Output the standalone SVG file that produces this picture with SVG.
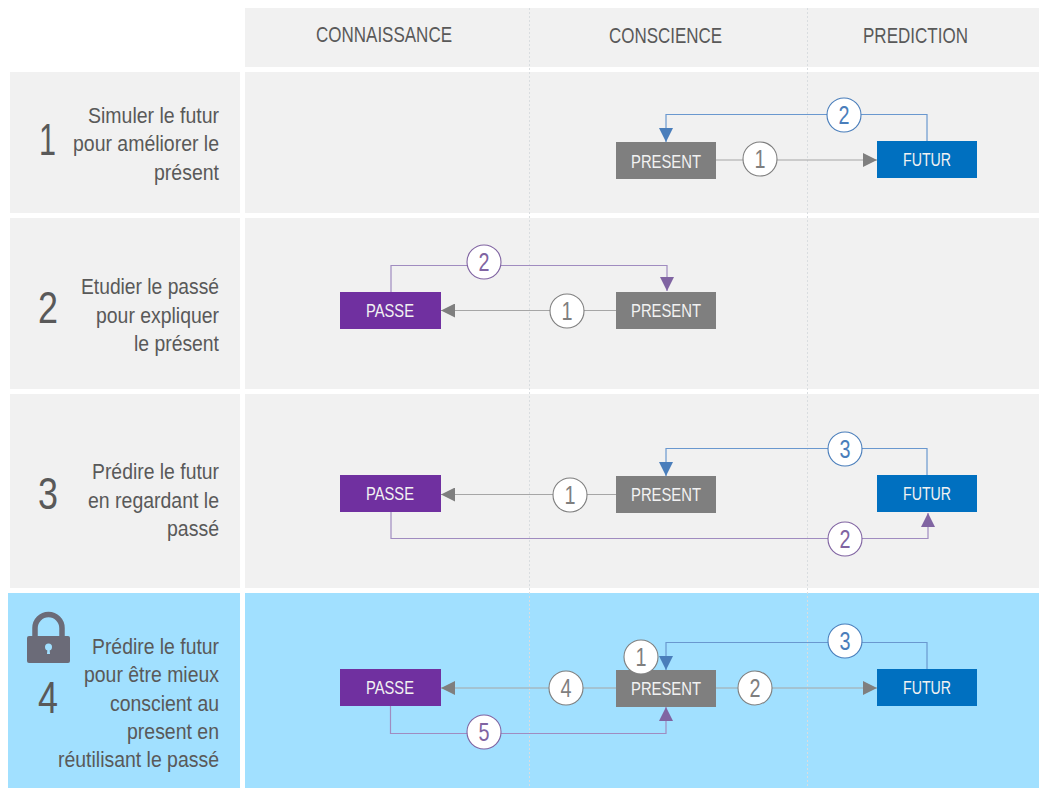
<svg xmlns="http://www.w3.org/2000/svg" width="1039" height="788" viewBox="0 0 1039 788">
<defs>
<marker id="ag" viewBox="0 0 14 14" refX="14" refY="7" markerWidth="14" markerHeight="14" markerUnits="userSpaceOnUse" orient="auto"><path d="M0 0L14 7L0 14Z" fill="#7f7f7f"/></marker>
<marker id="ab" viewBox="0 0 14 14" refX="14" refY="7" markerWidth="14" markerHeight="14" markerUnits="userSpaceOnUse" orient="auto"><path d="M0 0L14 7L0 14Z" fill="#4a7ebb"/></marker>
<marker id="ap" viewBox="0 0 14 14" refX="14" refY="7" markerWidth="14" markerHeight="14" markerUnits="userSpaceOnUse" orient="auto"><path d="M0 0L14 7L0 14Z" fill="#8064a2"/></marker>
</defs>
<style>
text{font-family:"Liberation Sans",Arial,sans-serif;}
.bg{fill:#f1f1f1}.hl{fill:#a1e0ff}
.h{font-size:22px;fill:#595959;text-anchor:middle}
.d{font-size:22px;fill:#595959;text-anchor:end}
.n{font-size:44px;fill:#595959;text-anchor:middle}
.box{font-size:18px;fill:#f2f2f2;text-anchor:middle}
.c{font-size:25px;text-anchor:middle}
.cg{fill:#fff;stroke:#7f7f7f;stroke-width:1.1}
.cb{fill:#fff;stroke:#4a7ebb;stroke-width:1.1}
.cp{fill:#fff;stroke:#8064a2;stroke-width:1.1}
.lg{fill:none;stroke:#a6a6a6;stroke-width:1.2}
.lb{fill:none;stroke:#6a98cf;stroke-width:1.2}
.lp{fill:none;stroke:#a08cc0;stroke-width:1.2}
.sep{stroke:#d9dde0;stroke-width:1;stroke-dasharray:2 2}
.t-g{fill:#7f7f7f}.t-b{fill:#4a7ebb}.t-p{fill:#8064a2}
</style>
<g id="background">
<rect class="bg" x="245" y="8" width="794" height="59"/>
<rect class="bg" x="10" y="72" width="230" height="141"/>
<rect class="bg" x="245" y="72" width="794" height="141"/>
<rect class="bg" x="10" y="218" width="230" height="171"/>
<rect class="bg" x="245" y="218" width="794" height="171"/>
<rect class="bg" x="10" y="394" width="230" height="194"/>
<rect class="bg" x="245" y="394" width="794" height="194"/>
<rect class="hl" x="8" y="593" width="232" height="195"/>
<rect class="hl" x="245" y="593" width="794" height="195"/>
<line class="sep" x1="529.500" y1="8" x2="529.500" y2="788"/>
<line class="sep" x1="807.500" y1="8" x2="807.500" y2="788"/>
</g>
<g id="headers">
<text class="h" x="384" y="42" textLength="136" lengthAdjust="spacingAndGlyphs">CONNAISSANCE</text>
<text class="h" x="665.500" y="43" textLength="113" lengthAdjust="spacingAndGlyphs">CONSCIENCE</text>
<text class="h" x="915.500" y="43" textLength="105" lengthAdjust="spacingAndGlyphs">PREDICTION</text>
</g>
<g id="row-labels">
<text class="n" x="47.500" y="155" textLength="17" lengthAdjust="spacingAndGlyphs">1</text>
<text class="d" x="219" y="123" textLength="131" lengthAdjust="spacingAndGlyphs">Simuler le futur</text>
<text class="d" x="219" y="151" textLength="146" lengthAdjust="spacingAndGlyphs">pour améliorer le</text>
<text class="d" x="219" y="180" textLength="65" lengthAdjust="spacingAndGlyphs">présent</text>
<text class="n" x="48" y="323" textLength="20" lengthAdjust="spacingAndGlyphs">2</text>
<text class="d" x="219" y="294" textLength="138" lengthAdjust="spacingAndGlyphs">Etudier le passé</text>
<text class="d" x="219" y="323" textLength="123" lengthAdjust="spacingAndGlyphs">pour expliquer</text>
<text class="d" x="219" y="351" textLength="85" lengthAdjust="spacingAndGlyphs">le présent</text>
<text class="n" x="48" y="509" textLength="20" lengthAdjust="spacingAndGlyphs">3</text>
<text class="d" x="219" y="479" textLength="127" lengthAdjust="spacingAndGlyphs">Prédire le futur</text>
<text class="d" x="219" y="508" textLength="131" lengthAdjust="spacingAndGlyphs">en regardant le</text>
<text class="d" x="219" y="536" textLength="52" lengthAdjust="spacingAndGlyphs">passé</text>
<text class="n" x="48" y="713" textLength="20" lengthAdjust="spacingAndGlyphs">4</text>
<text class="d" x="219" y="654" textLength="127" lengthAdjust="spacingAndGlyphs">Prédire le futur</text>
<text class="d" x="219" y="682" textLength="135" lengthAdjust="spacingAndGlyphs">pour être mieux</text>
<text class="d" x="219" y="711" textLength="109" lengthAdjust="spacingAndGlyphs">conscient au</text>
<text class="d" x="219" y="739" textLength="92" lengthAdjust="spacingAndGlyphs">present en</text>
<text class="d" x="219" y="767" textLength="161" lengthAdjust="spacingAndGlyphs">réutilisant le passé</text>
</g>
<g id="lock">
<path d="M35 637V628a13.500 13.500 0 0 1 27 0V637" fill="none" stroke="#6b6b78" stroke-width="5.500"/>
<rect x="27" y="636" width="43" height="27" rx="2" fill="#6b6b78"/>
<circle cx="48.500" cy="647" r="3.500" fill="#a1e0ff"/>
<path d="M47.500 648H49.500L50 654H47Z" fill="#a1e0ff"/>
</g>
<g id="connectors">
<path class="lg" d="M716 160H877" marker-end="url(#ag)"/>
<path class="lb" d="M927 141V114.500H666V142" marker-end="url(#ab)"/>
<path class="lp" d="M391 292V265.500H667V291" marker-end="url(#ap)"/>
<path class="lg" d="M616 310.500H441" marker-end="url(#ag)"/>
<path class="lg" d="M616 494.500H441" marker-end="url(#ag)"/>
<path class="lb" d="M927 475V448.500H666V476" marker-end="url(#ab)"/>
<path class="lp" d="M391 512V538.500H928V513" marker-end="url(#ap)"/>
<path class="lg" d="M616 688H441" marker-end="url(#ag)"/>
<path class="lg" d="M716 688H877" marker-end="url(#ag)"/>
<path class="lb" d="M927 669V642.500H666V670" marker-end="url(#ab)"/>
<path class="lp" d="M390.500 706V733.500H666V707" marker-end="url(#ap)"/>
</g>
<g id="row1-present"><rect x="616" y="142" width="100" height="37" fill="#7f7f7f"/><text class="box" x="666" y="168" textLength="70" lengthAdjust="spacingAndGlyphs">PRESENT</text></g>
<g id="row1-futur"><rect x="877" y="141" width="100" height="37" fill="#0070c0"/><text class="box" x="927" y="166" textLength="48" lengthAdjust="spacingAndGlyphs">FUTUR</text></g>
<g id="row2-passe"><rect x="340" y="292" width="101" height="37" fill="#7030a0"/><text class="box" x="390" y="317" textLength="48" lengthAdjust="spacingAndGlyphs">PASSE</text></g>
<g id="row2-present"><rect x="616" y="292" width="100" height="37" fill="#7f7f7f"/><text class="box" x="666" y="317" textLength="70" lengthAdjust="spacingAndGlyphs">PRESENT</text></g>
<g id="row3-passe"><rect x="340" y="475" width="101" height="37" fill="#7030a0"/><text class="box" x="390" y="500" textLength="48" lengthAdjust="spacingAndGlyphs">PASSE</text></g>
<g id="row3-present"><rect x="616" y="476" width="100" height="37" fill="#7f7f7f"/><text class="box" x="666" y="501" textLength="70" lengthAdjust="spacingAndGlyphs">PRESENT</text></g>
<g id="row3-futur"><rect x="877" y="475" width="100" height="37" fill="#0070c0"/><text class="box" x="927" y="500" textLength="48" lengthAdjust="spacingAndGlyphs">FUTUR</text></g>
<g id="row4-passe"><rect x="340" y="669" width="101" height="37" fill="#7030a0"/><text class="box" x="390" y="694" textLength="48" lengthAdjust="spacingAndGlyphs">PASSE</text></g>
<g id="row4-present"><rect x="616" y="670" width="100" height="37" fill="#7f7f7f"/><text class="box" x="666" y="695" textLength="70" lengthAdjust="spacingAndGlyphs">PRESENT</text></g>
<g id="row4-futur"><rect x="877" y="669" width="100" height="37" fill="#0070c0"/><text class="box" x="927" y="694" textLength="48" lengthAdjust="spacingAndGlyphs">FUTUR</text></g>
<g id="badges">
<circle class="cg" cx="760" cy="159" r="17"/><text class="c t-g" x="760" y="167.500" textLength="11" lengthAdjust="spacingAndGlyphs">1</text>
<circle class="cb" cx="844" cy="115" r="17"/><text class="c t-b" x="844" y="123.500" textLength="11" lengthAdjust="spacingAndGlyphs">2</text>
<circle class="cp" cx="484" cy="262" r="17"/><text class="c t-p" x="484" y="270.500" textLength="11" lengthAdjust="spacingAndGlyphs">2</text>
<circle class="cg" cx="567" cy="311" r="17"/><text class="c t-g" x="567" y="319.500" textLength="11" lengthAdjust="spacingAndGlyphs">1</text>
<circle class="cb" cx="845" cy="449" r="17"/><text class="c t-b" x="845" y="457.500" textLength="11" lengthAdjust="spacingAndGlyphs">3</text>
<circle class="cg" cx="570" cy="495" r="17"/><text class="c t-g" x="570" y="503.500" textLength="11" lengthAdjust="spacingAndGlyphs">1</text>
<circle class="cp" cx="845" cy="539" r="17"/><text class="c t-p" x="845" y="547.500" textLength="11" lengthAdjust="spacingAndGlyphs">2</text>
<circle class="cb" cx="845" cy="641" r="17"/><text class="c t-b" x="845" y="649.500" textLength="11" lengthAdjust="spacingAndGlyphs">3</text>
<circle class="cg" cx="641" cy="657" r="17"/><text class="c t-g" x="641" y="665.500" textLength="11" lengthAdjust="spacingAndGlyphs">1</text>
<circle class="cg" cx="566" cy="688" r="17"/><text class="c t-g" x="566" y="696.500" textLength="11" lengthAdjust="spacingAndGlyphs">4</text>
<circle class="cg" cx="755" cy="688" r="17"/><text class="c t-g" x="755" y="696.500" textLength="11" lengthAdjust="spacingAndGlyphs">2</text>
<circle class="cp" cx="484" cy="732" r="17"/><text class="c t-p" x="484" y="740.500" textLength="11" lengthAdjust="spacingAndGlyphs">5</text>
</g>
</svg>
